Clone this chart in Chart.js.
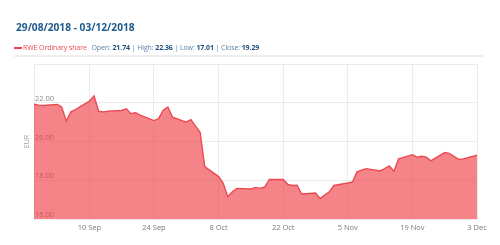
<!DOCTYPE html>
<html>
<head>
<meta charset="utf-8">
<script src="https://cdn.jsdelivr.net/npm/chart.js@4"></script>
<style>
    body { margin: 0; width: 500px; height: 245px; background: #fff; font-family: 'Open Sans', sans-serif; overflow: hidden; }
    .wrap { position: relative; width: 500px; height: 245px; }
    #chart { position: absolute; left: 0; top: 0; }
    .title { position: absolute; left: 16px; top: 21px; font-size: 10.2px; line-height: 13px; font-weight: 700; color: #1d5a8c; }
    .legend { position: absolute; left: 14px; top: 43px; font-size: 7px; line-height: 9px; color: #5b86ad; white-space: nowrap; letter-spacing: -0.1px; }
    .legend .dash { display: inline-block; width: 8px; height: 2px; background: #e8434c; vertical-align: middle; margin-right: 1px; }
    .legend .name { color: #ec4a52; margin-right: 3px; }
    .legend b { color: #1d4f7c; }
    .sep { position: absolute; left: 14px; top: 55px; width: 469px; height: 2px; background: #eeeeee; }
</style>
</head>
<body>
<div class="wrap">
    <canvas id="chart" width="500" height="245"></canvas>
    <div class="title">29/08/2018 - 03/12/2018</div>
    <div class="legend"><span class="dash"></span><span class="name">RWE Ordinary share</span> Open: <b>21.74</b> | High: <b>22.36</b> | Low: <b>17.01</b> | Close: <b>19.29</b></div>
    <div class="sep"></div>
</div>
<script>
const startDate = '2018-08-29';

const dates = [
    '2018-08-29', '2018-08-30', '2018-08-31',
    '2018-09-03', '2018-09-04', '2018-09-05', '2018-09-06', '2018-09-07',
    '2018-09-10', '2018-09-11', '2018-09-12', '2018-09-13', '2018-09-14',
    '2018-09-17', '2018-09-18', '2018-09-19', '2018-09-20', '2018-09-21',
    '2018-09-24', '2018-09-25', '2018-09-26', '2018-09-27', '2018-09-28',
    '2018-10-01', '2018-10-02', '2018-10-03', '2018-10-04', '2018-10-05',
    '2018-10-08', '2018-10-09', '2018-10-10', '2018-10-11', '2018-10-12',
    '2018-10-15', '2018-10-16', '2018-10-17', '2018-10-18', '2018-10-19',
    '2018-10-22', '2018-10-23', '2018-10-24', '2018-10-25', '2018-10-26',
    '2018-10-29', '2018-10-30', '2018-10-31', '2018-11-01', '2018-11-02',
    '2018-11-05', '2018-11-06', '2018-11-07', '2018-11-08', '2018-11-09',
    '2018-11-12', '2018-11-13', '2018-11-14', '2018-11-15', '2018-11-16',
    '2018-11-19', '2018-11-20', '2018-11-21', '2018-11-22', '2018-11-23',
    '2018-11-26', '2018-11-27', '2018-11-28', '2018-11-29', '2018-11-30',
    '2018-12-03'
];

const closes = [
    21.92, 21.88, 21.86,
    21.91, 21.78, 21.05, 21.53, 21.65,
    22.08, 22.35, 21.57, 21.52, 21.57,
    21.60, 21.69, 21.43, 21.48, 21.36,
    21.08, 21.18, 21.62, 21.78, 21.26,
    21.00, 21.13, 20.79, 20.48, 18.71,
    18.19, 17.84, 17.15, 17.40, 17.58,
    17.55, 17.63, 17.58, 17.65, 18.04,
    18.04, 17.79, 17.73, 17.74, 17.29,
    17.34, 17.06, 17.23, 17.40, 17.73,
    17.86, 17.91, 18.43, 18.52, 18.60,
    18.48, 18.60, 18.74, 18.47, 19.10,
    19.32, 19.19, 19.24, 19.19, 19.00,
    19.43, 19.39, 19.23, 19.08, 19.10,
    19.29
];

const tickDates = ['2018-09-10', '2018-09-24', '2018-10-08', '2018-10-22', '2018-11-05', '2018-11-19', '2018-12-03'];
const tickLabels = ['10 Sep', '24 Sep', '8 Oct', '22 Oct', '5 Nov', '19 Nov', '3 Dec'];
const yTicks = [16, 18, 20, 22, 24];

const dayOf = d => (Date.parse(d) - Date.parse(startDate)) / 86400000;
const points = dates.map((d, i) => ({ x: dayOf(d), y: closes[i] }));
const tickDays = tickDates.map(dayOf);

const ctx = document.getElementById('chart');

new Chart(ctx, {
    type: 'line',
    data: {
        datasets: [{
            data: points,
            borderColor: '#ec4a52',
            borderWidth: 1.4,
            backgroundColor: 'rgba(240, 62, 70, 0.64)',
            fill: 'start',
            pointRadius: 0,
            tension: 0
        }]
    },
    options: {
        responsive: false,
        animation: false,
        layout: {
            padding: { left: 20, top: 64, right: 23, bottom: 0 }
        },
        scales: {
            x: {
                type: 'linear',
                min: 0,
                max: dayOf(dates[dates.length - 1]),
                afterBuildTicks: scale => {
                    scale.ticks = tickDays.map(v => ({ value: v }));
                },
                afterFit: scale => { scale.height = 26; },
                border: { display: false },
                grid: { color: '#ebebeb', drawTicks: false },
                ticks: {
                    color: '#7a7a7a',
                    font: { family: 'Open Sans', size: 7.5 },
                    padding: 4,
                    maxRotation: 0,
                    autoSkip: false,
                    callback: (v) => tickLabels[tickDays.indexOf(v)]
                }
            },
            y: {
                min: 16,
                max: 24,
                afterBuildTicks: scale => {
                    scale.ticks = yTicks.map(v => ({ value: v }));
                },
                afterFit: scale => { scale.width = 14; },
                border: { display: true, color: '#ebebeb' },
                grid: { color: '#ebebeb', drawTicks: false },
                title: {
                    display: true,
                    text: 'EUR',
                    color: '#9a9a9a',
                    font: { family: 'Open Sans', size: 7 },
                    padding: { top: 3, bottom: 0 }
                },
                ticks: {
                    mirror: true,
                    padding: 1,
                    labelOffset: -4,
                    color: '#8a8a8a',
                    font: { family: 'Open Sans', size: 7.5 },
                    callback: v => v === 24 ? '' : v.toFixed(2)
                }
            }
        },
        plugins: {
            legend: { display: false },
            tooltip: { enabled: false }
        }
    }
});
</script>
</body>
</html>
